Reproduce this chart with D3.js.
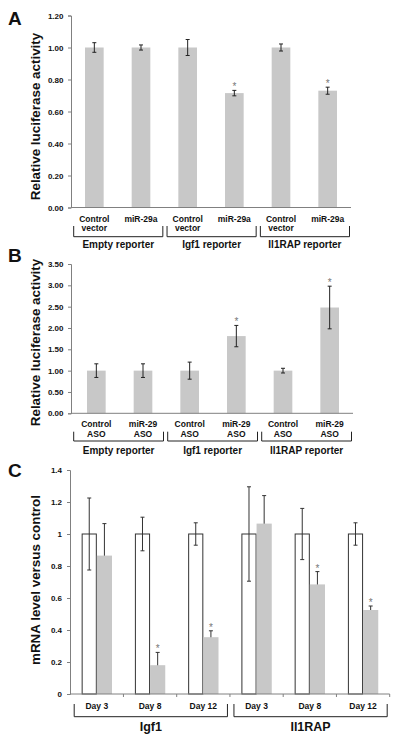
<!DOCTYPE html>
<html><head><meta charset="utf-8">
<script src="https://cdn.jsdelivr.net/npm/d3@7"></script>
<style>body{margin:0;background:#fff}svg{display:block}text{font-family:"Liberation Sans",Arial,sans-serif}</style>
</head><body>
<script>
// ---------- data ----------
const groupsAB = ["Empty reporter", "Igf1 reporter", "Il1RAP reporter"];

const aLabels = ["Control vector", "miR-29a", "Control vector", "miR-29a", "Control vector", "miR-29a"];
const aValues = [1.00, 1.00, 1.00, 0.715, 1.00, 0.73];
const aErrors = [0.03, 0.016, 0.05, 0.017, 0.022, 0.022];
const aSig = [false, false, false, true, false, true];
const aTicks = [0, 0.2, 0.4, 0.6, 0.8, 1.0, 1.2];

const bLabels = ["Control ASO", "miR-29 ASO", "Control ASO", "miR-29 ASO", "Control ASO", "miR-29 ASO"];
const bValues = [1.00, 1.00, 1.00, 1.81, 1.00, 2.48];
const bErrors = [0.16, 0.16, 0.20, 0.25, 0.055, 0.50];
const bSig = [false, false, false, true, false, true];
const bTicks = [0, 0.5, 1.0, 1.5, 2.0, 2.5, 3.0, 3.5];

const cDays = ["Day 3", "Day 8", "Day 12", "Day 3", "Day 8", "Day 12"];
const cGroups = ["Igf1", "Il1RAP"];
const cControl = [1, 1, 1, 1, 1, 1];
const cControlErr = [0.225, 0.105, 0.07, 0.295, 0.16, 0.07];
const cTreated = [0.865, 0.18, 0.355, 1.065, 0.685, 0.525];
const cTreatedErr = [0.2, 0.08, 0.04, 0.175, 0.08, 0.025];
const cSig = [false, true, true, false, true, true];
const cTicks = [0, 0.2, 0.4, 0.6, 0.8, 1, 1.2, 1.4];

// ---------- drawing ----------
const W = 400, H = 742;
const svg = d3.select("body").append("svg").attr("width", W).attr("height", H);
const AXIS = "#808080", BAR = "#c8c8c8", ERR = "#222", STAR = "#777";

function yAxis(g, y, x0, ticks, fmt, labelRight) {
  const ax = g.append("g").attr("transform", `translate(${x0},0)`)
    .call(d3.axisLeft(y).tickValues(ticks).tickFormat(fmt).tickSize(3).tickPadding(x0 - 3 - labelRight));
  ax.select(".domain").attr("stroke", AXIS);
  ax.selectAll(".tick line").attr("stroke", AXIS);
  ax.selectAll(".tick text").attr("font-size", 8).attr("font-weight", "bold").attr("fill", "#111");
}
function yTitle(g, text, cx, cy) {
  g.append("text").attr("transform", `translate(${cx},${cy}) rotate(-90)`)
    .attr("text-anchor", "middle").attr("font-size", 13.4).attr("font-weight", "bold").attr("fill", "#111").text(text);
}
function panelLetter(g, t, x, y) {
  g.append("text").attr("x", x).attr("y", y).attr("font-size", 19).attr("font-weight", "bold").attr("fill", "#111").text(t);
}
function errBar(g, x, yTop, yBot, color) {
  g.append("line").attr("x1", x).attr("x2", x).attr("y1", yTop).attr("y2", yBot).attr("stroke", color).attr("stroke-width", 1);
  [yTop, yBot].forEach(yy => g.append("line").attr("x1", x - 2).attr("x2", x + 2).attr("y1", yy).attr("y2", yy).attr("stroke", color).attr("stroke-width", 1));
}
function star(g, x, cy) {
  g.append("text").attr("x", x).attr("y", cy + 5.5).attr("text-anchor", "middle").attr("font-size", 10).attr("fill", STAR).text("*");
}
function bracket(g, x1, x2, yTop, yBot) {
  g.append("path").attr("d", `M${x1},${yTop}V${yBot}H${x2}V${yTop}`).attr("fill", "none").attr("stroke", "#222").attr("stroke-width", 1);
}

// Panels A and B (same layout)
function luciferasePanel(cfg) {
  const g = svg.append("g");
  const idx = d3.range(cfg.values.length);
  const x = d3.scaleBand().domain(idx).range(cfg.xRange).paddingInner(0.6).paddingOuter(0.3);
  const y = d3.scaleLinear().domain(cfg.domain).range(cfg.yRange);
  // bars
  g.selectAll("rect.bar").data(idx).join("rect").attr("class", "bar")
    .attr("x", i => x(i)).attr("width", x.bandwidth())
    .attr("y", i => y(cfg.values[i])).attr("height", i => y(0) - y(cfg.values[i]))
    .attr("fill", BAR);
  idx.forEach(i => {
    const cx = x(i) + x.bandwidth() / 2;
    const top = y(cfg.values[i] + cfg.errors[i]);
    errBar(g, cx, top, y(cfg.values[i] - cfg.errors[i]), ERR);
    if (cfg.sig[i]) star(g, cx, top - 5.5);
  });
  // axes
  yAxis(g, y, cfg.axisX, cfg.ticks, d => d.toFixed(2), 63.5);
  g.append("line").attr("x1", cfg.axisX).attr("x2", cfg.xRange[1]).attr("y1", y(0)).attr("y2", y(0)).attr("stroke", AXIS);
  // category labels
  idx.forEach(i => {
    const cx = x(i) + x.bandwidth() / 2;
    const t = g.append("text").attr("text-anchor", "middle").attr("font-size", 8.5).attr("font-weight", "bold").attr("fill", "#111");
    cfg.labels[i].split(" ").forEach((w, k) => t.append("tspan").attr("x", cx).attr("y", cfg.labelY + k * 9.5).text(w));
  });
  // brackets and group labels
  const step = (cfg.xRange[1] - cfg.axisX) / 3;
  groupsAB.forEach((gname, k) => {
    const x1 = cfg.axisX + k * step + 2.7, x2 = cfg.axisX + (k + 1) * step - 1.5;
    bracket(g, x1, x2, cfg.brTop, cfg.brBot);
    g.append("text").attr("x", (x1 + x2) / 2).attr("y", cfg.groupY).attr("text-anchor", "middle")
      .attr("font-size", 10).attr("font-weight", "bold").attr("fill", "#111").text(gname);
  });
  yTitle(g, "Relative luciferase activity", 39.5, cfg.titleY);
  panelLetter(g, cfg.letter, 8, cfg.letterY);
}

luciferasePanel({
  letter: "A", letterY: 24.5, values: aValues, errors: aErrors, sig: aSig, labels: aLabels, ticks: aTicks,
  domain: [0, 1.2], yRange: [207.5, 15.5], xRange: [71, 351], axisX: 71,
  labelY: 221.7, brTop: 226, brBot: 236.7, groupY: 248, titleY: 116.5
});
luciferasePanel({
  letter: "B", letterY: 262, values: bValues, errors: bErrors, sig: bSig, labels: bLabels, ticks: bTicks,
  domain: [0, 3.5], yRange: [413.3, 264], xRange: [73, 353], axisX: 71,
  labelY: 427.3, brTop: 431.7, brBot: 441, groupY: 454, titleY: 342.5
});

// Panel C
(function () {
  const g = svg.append("g");
  const idx = d3.range(cDays.length);
  const x = d3.scaleBand().domain(idx).range([70.2, 389.7]).paddingInner(0.43).paddingOuter(0.215);
  const sub = d3.scaleBand().domain([0, 1]).range([0, x.bandwidth()]);
  const y = d3.scaleLinear().domain([0, 1.4]).range([694, 470]);
  // error bars first (bars drawn over them)
  idx.forEach(i => {
    const c0 = x(i) + sub(0) + sub.bandwidth() / 2;
    const c1 = x(i) + sub(1) + sub.bandwidth() / 2;
    errBar(g, c0, y(cControl[i] + cControlErr[i]), y(cControl[i] - cControlErr[i]), "#333");
    const t1 = y(cTreated[i] + cTreatedErr[i]);
    errBar(g, c1, t1, y(cTreated[i] - cTreatedErr[i]), "#333");
  });
  g.selectAll("rect.ctl").data(idx).join("rect").attr("class", "ctl")
    .attr("x", i => x(i) + sub(0) + 0.5).attr("width", sub.bandwidth() - 1)
    .attr("y", i => y(cControl[i])).attr("height", i => y(0) - y(cControl[i]))
    .attr("fill", "none").attr("stroke", "#333").attr("stroke-width", 1);
  g.selectAll("rect.trt").data(idx).join("rect").attr("class", "trt")
    .attr("x", i => x(i) + sub(1)).attr("width", sub.bandwidth())
    .attr("y", i => y(cTreated[i])).attr("height", i => y(0) - y(cTreated[i]))
    .attr("fill", BAR);
  idx.forEach(i => {
    const c1 = x(i) + sub(1) + sub.bandwidth() / 2;
    if (cSig[i]) star(g, c1, y(cTreated[i] + cTreatedErr[i]) - 5.5);
  });
  yAxis(g, y, 70, cTicks, d => String(d), 62);
  g.append("line").attr("x1", 70).attr("x2", 389.7).attr("y1", y(0)).attr("y2", y(0)).attr("stroke", AXIS);
  // small x ticks at category boundaries
  const step = (389.7 - 70.2) / 6;
  d3.range(1, 7).forEach(k => g.append("line").attr("x1", 70.2 + k * step).attr("x2", 70.2 + k * step)
    .attr("y1", y(0)).attr("y2", y(0) + 3).attr("stroke", AXIS));
  idx.forEach(i => {
    g.append("text").attr("x", x(i) + x.bandwidth() / 2).attr("y", 709).attr("text-anchor", "middle")
      .attr("font-size", 8.5).attr("font-weight", "bold").attr("fill", "#111").text(cDays[i]);
  });
  const gstep = (389.7 - 70.2) / 2;
  cGroups.forEach((gname, k) => {
    const x1 = 70.2 + k * gstep + 4, x2 = 70.2 + (k + 1) * gstep - 2.5;
    bracket(g, x1, x2, 704, 716.7);
    g.append("text").attr("x", (x1 + x2) / 2).attr("y", 730.5).attr("text-anchor", "middle")
      .attr("font-size", 12.5).attr("font-weight", "bold").attr("fill", "#111").text(gname);
  });
  yTitle(g, "mRNA level versus control", 39.5, 580);
  panelLetter(g, "C", 8, 477);
})();
</script>
</body></html>
